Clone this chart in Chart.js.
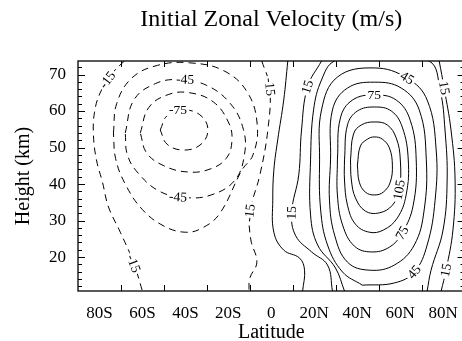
<!DOCTYPE html>
<html>
<head>
<meta charset="utf-8">
<script src="https://cdn.jsdelivr.net/npm/chart.js@4.4.1/dist/chart.umd.min.js"></script>
<style>
  html, body { margin: 0; padding: 0; background: #fff; overflow: hidden; }
  #wrap { width: 470px; height: 341px; }
</style>
</head>
<body>
<div id="wrap"><canvas id="c" width="470" height="341"></canvas></div>
<script>
// axis ticks
const latLabels = [-80, -60, -40, -20, 0, 20, 40, 60, 80];
const latTicks = [-70, -50, -30, -10, 10, 30, 50, 70];
const heightLabels = [20, 30, 40, 50, 60, 70];
const heightMinor = [12, 14, 16, 18, 22, 24, 26, 28, 32, 34, 36, 38, 42, 44, 46, 48, 52, 54, 56, 58, 62, 64, 66, 68, 72];

// contour lines, [latitude, height km]
const cNeg75 = [[-51.7,54.8],[-48.5,58.7],[-40.6,60.3],[-32.7,58.7],[-29.5,54.8],[-32.7,50.9],[-40.6,49.3],[-48.5,50.9],[-51.7,54.8]];
const cNeg60 = [[-61,54],[-57,61],[-48,64.5],[-38,65],[-27,62.5],[-20,57],[-18.3,52],[-21,47],[-29,44],[-39,43.3],[-50,45],[-58,48.5],[-61,54]];
const cNeg45 = [[-68,54],[-64,63],[-54,67.5],[-43,68.6],[-30,67],[-19,62],[-13,55],[-12.5,48],[-17,41],[-28,37],[-40,36.3],[-52,38],[-62,43],[-67,48],[-68,54]];
const cNeg30 = [[-73.5,54],[-72,62],[-65,69],[-53,72.5],[-38,73.2],[-22,71],[-11,65],[-6.5,56],[-8.5,48],[-13.7,43.8],[-23.9,32],[-32,28],[-40,26.8],[-50,28.5],[-60,33],[-68,40],[-72.5,47],[-73.5,54]];
const cNeg15W = [[-68.4,73.7],[-73.5,70.7],[-79.5,65.2],[-82.3,59.7],[-82.8,53.4],[-81.4,46.6],[-78.6,40.5],[-75.8,33.7],[-70.3,26.8],[-64.2,18.6],[-60,10.7]];
const cNeg15E = [[-4.4,73.7],[-0.7,66.6],[-1.6,54.8],[-5.3,42.5],[-10,32.1],[-9.5,24.7],[-6.7,18.6],[-10,14.2],[-10.4,10.7]];
const cZero = [[7.7,73.7],[5.8,63],[3,52.1],[1.2,43.8],[0.7,35.6],[1.2,26.8],[5.8,21.9],[13.2,19.7],[15.5,16.4],[14.6,10.7]];
const cPos15W = [[23.4,73.7],[16.9,66.6],[14.1,54.8],[12.8,42.5],[9.5,32.1],[11.4,25.8],[18.8,21.4],[26.2,17.8],[28.5,10.7]];
const cPos15E = [[78.2,73.7],[80.5,66.3],[83.7,54.8],[85.6,41.1],[84.6,27.4],[81.4,16.4],[79.1,10.7]];
const cPos30 = [[34.1,10.7],[29.9,17],[21.6,23.3],[18.3,31.5],[18.3,46.6],[19.7,60.3],[23.4,68.5],[29.5,73.7],[48,75.3],[73.5,73.7],[78.6,65.8],[80.9,54.8],[81.9,41.1],[80,27.4],[74.4,16.4],[72.6,10.7]];
const cPos45 = [[42.4,12.3],[33.2,15.9],[26.2,23.3],[23,32.9],[22.5,46.6],[23.4,60.3],[30.8,69.3],[48,71.8],[63.3,69],[72.6,63],[76.8,49.3],[76.3,35.6],[72.6,23.3],[66.6,15.9],[57.3,12.9],[42.4,12.3]];
const cPos60 = [[27.6,46.6],[28.5,60.3],[35.5,66.3],[48,67.9],[60.5,66.3],[68.9,60.3],[72.2,46.6],[71.2,32.9],[66.6,23.3],[57.3,17.8],[45.7,16.4],[35.5,18.6],[29.5,26],[27.1,35.6],[27.6,46.6]];
const cPos75 = [[30.8,46.6],[32.2,58.1],[37.8,63],[48,64.4],[58.2,63],[64.7,57.5],[67.5,46.6],[66.1,34.2],[61,26.6],[55,22.7],[46.6,21.4],[38.7,23],[33.2,28.8],[30.8,37],[30.8,46.6]];
const cPos90 = [[34.1,46.6],[35.5,56.2],[40.1,60],[48,61.1],[55.9,60],[61,55.6],[63.8,46.6],[62.8,37],[58.7,30.7],[52.2,27.4],[45.7,26.8],[39.2,29],[35.5,34.2],[34.1,41.1],[34.1,46.6]];
const cPos105 = [[36.9,46.6],[38.3,53.7],[42,56.2],[48,57],[54,56.2],[58.2,52.6],[60.1,46.6],[59.6,38.4],[56.4,34.2],[50.3,32.1],[43.8,32.6],[39.2,36.2],[37.3,41.1],[36.9,46.6]];
const cPos120 = [[40.1,45.2],[41.5,50.4],[44.8,52.3],[48,52.9],[51.7,52.3],[55,49.9],[56.4,45.2],[55.4,40.5],[52.2,37.8],[48,37],[43.8,37.8],[41,40.5],[40.1,45.2]];

const contours = [
  { level: -75, pts: cNeg75 }, { level: -60, pts: cNeg60 }, { level: -45, pts: cNeg45 },
  { level: -30, pts: cNeg30 }, { level: -15, pts: cNeg15W }, { level: -15, pts: cNeg15E },
  { level: 0, pts: cZero },
  { level: 15, pts: cPos15W }, { level: 15, pts: cPos15E }, { level: 30, pts: cPos30 },
  { level: 45, pts: cPos45 }, { level: 60, pts: cPos60 }, { level: 75, pts: cPos75 },
  { level: 90, pts: cPos90 }, { level: 105, pts: cPos105 }, { level: 120, pts: cPos120 }
];

// inline contour labels: text, line it sits on, [lat, height]
const contourLabels = [
  { text: '-15', on: cNeg15W, at: [-76.3, 68.5] },
  { text: '-45', on: cNeg45, at: [-40.1, 68.6] },
  { text: '-75', on: cNeg75, at: [-43.4, 60.2] },
  { text: '-45', on: cNeg45, at: [-43.4, 36.4] },
  { text: '-15', on: cNeg15W, at: [-64.2, 18.2] },
  { text: '-15', on: cNeg15E, at: [-10, 32.1] },
  { text: '-15', on: cNeg15E, at: [-0.7, 66.6] },
  { text: '15', on: cPos15W, at: [16.9, 66.6] },
  { text: '15', on: cPos15W, at: [9.5, 32.1] },
  { text: '75', on: cPos75, at: [48, 64.4] },
  { text: '45', on: cPos45, at: [63.3, 69] },
  { text: '15', on: cPos15E, at: [80.5, 66.3] },
  { text: '105', on: cPos105, at: [59.6, 38.4] },
  { text: '75', on: cPos75, at: [61, 26.6] },
  { text: '45', on: cPos45, at: [66.6, 15.9] },
  { text: '15', on: cPos15E, at: [81.4, 16.4] }
];

const serif = 'Liberation Serif, Times New Roman, serif';

function latText(v) {
  if (v < 0) return (-v) + 'S';
  if (v > 0) return v + 'N';
  return '0';
}

const labelPlugin = {
  id: 'contourLabels',
  afterDatasetsDraw(chart) {
    const { ctx, scales: { x, y } } = chart;
    ctx.save();
    ctx.font = '13.5px ' + serif;
    ctx.textAlign = 'center';
    ctx.textBaseline = 'middle';
    contourLabels.forEach(l => {
      const px = x.getPixelForValue(l.at[0]);
      const py = y.getPixelForValue(l.at[1]);
      // direction of the line near the label
      const pp = l.on.map(p => [x.getPixelForValue(p[0]), y.getPixelForValue(p[1])]);
      let best = 0, bd = 1e9;
      pp.forEach((p, i) => {
        const d = (p[0] - px) ** 2 + (p[1] - py) ** 2;
        if (d < bd) { bd = d; best = i; }
      });
      const a = pp[Math.max(0, best - 1)], b = pp[Math.min(pp.length - 1, best + 1)];
      let ang = Math.atan2(b[1] - a[1], b[0] - a[0]);
      if (ang > Math.PI / 2) ang -= Math.PI;
      if (ang < -Math.PI / 2) ang += Math.PI;
      const w = ctx.measureText(l.text).width + 4;
      ctx.save();
      ctx.translate(px, py);
      ctx.rotate(ang);
      ctx.fillStyle = '#fff';
      ctx.fillRect(-w / 2, -6.5, w, 13);
      ctx.fillStyle = '#000';
      ctx.fillText(l.text, 0, 0.5);
      ctx.restore();
    });
    ctx.restore();
  }
};

const framePlugin = {
  id: 'frameTicks',
  afterDraw(chart) {
    const { ctx, chartArea: a, scales: { x, y } } = chart;
    ctx.save();
    ctx.strokeStyle = '#000';
    ctx.lineWidth = 1;
    ctx.beginPath();
    latTicks.forEach(v => {
      const px = Math.round(x.getPixelForValue(v)) + 0.5;
      ctx.moveTo(px, a.bottom); ctx.lineTo(px, a.bottom - 6);
      ctx.moveTo(px, a.top); ctx.lineTo(px, a.top + 6);
    });
    heightLabels.forEach(v => {
      const py = Math.round(y.getPixelForValue(v)) + 0.5;
      ctx.moveTo(a.left, py); ctx.lineTo(a.left + 7, py);
      ctx.moveTo(a.right, py); ctx.lineTo(a.right - 7, py);
    });
    heightMinor.forEach(v => {
      const py = Math.round(y.getPixelForValue(v)) + 0.5;
      ctx.moveTo(a.left, py); ctx.lineTo(a.left + 4, py);
      ctx.moveTo(a.right, py); ctx.lineTo(a.right - 4, py);
    });
    ctx.stroke();
    ctx.lineWidth = 1.3;
    ctx.strokeRect(a.left, a.top, a.right - a.left, a.bottom - a.top);
    ctx.restore();
  }
};

new Chart(document.getElementById('c'), {
  type: 'scatter',
  data: {
    datasets: contours.map(c => ({
      data: c.pts.map(p => ({ x: p[0], y: p[1] })),
      showLine: true,
      borderColor: '#000',
      borderWidth: 1,
      borderDash: c.level < 0 ? [7, 5] : [],
      pointRadius: 0,
      tension: 0.4,
      fill: false
    }))
  },
  options: {
    responsive: false,
    animation: false,
    events: [],
    layout: { padding: { top: 0, right: 4, bottom: 0, left: 0 } },
    plugins: {
      legend: { display: false },
      tooltip: { enabled: false },
      title: { display: false }
    },
    scales: {
      x: {
        type: 'linear', position: 'bottom', min: -90, max: 90,
        afterBuildTicks: s => { s.ticks = latLabels.map(v => ({ value: v })); },
        afterFit: s => { s.height = 50; },
        grid: { display: false, drawTicks: false },
        border: { display: false },
        ticks: { callback: v => latText(v), font: { family: serif, size: 17 }, color: '#000', padding: 12, maxRotation: 0, autoSkip: false },
        title: { display: true, text: 'Latitude', font: { family: serif, size: 20, lineHeight: 0.8 }, color: '#000', padding: 0 }
      },
      x2: {
        type: 'linear', position: 'top', min: -90, max: 90,
        afterFit: s => { s.height = 61; },
        grid: { display: false, drawTicks: false },
        border: { display: false },
        ticks: { display: false },
        title: { display: true, text: 'Initial Zonal Velocity (m/s)', font: { family: serif, size: 24 }, color: '#000', padding: { top: 5.6, bottom: 0 } }
      },
      y: {
        type: 'linear', min: 10.7, max: 73.7,
        afterBuildTicks: s => { s.ticks = heightLabels.map(v => ({ value: v })); },
        afterFit: s => { s.width = 78; },
        grid: { display: false, drawTicks: false },
        border: { display: false },
        ticks: { font: { family: serif, size: 17 }, color: '#000', padding: 12, autoSkip: false },
        title: { display: true, text: 'Height (km)', font: { family: serif, size: 20 }, color: '#000', padding: { top: 12, bottom: 0 } }
      }
    }
  },
  plugins: [labelPlugin, framePlugin]
});
</script>
</body>
</html>
